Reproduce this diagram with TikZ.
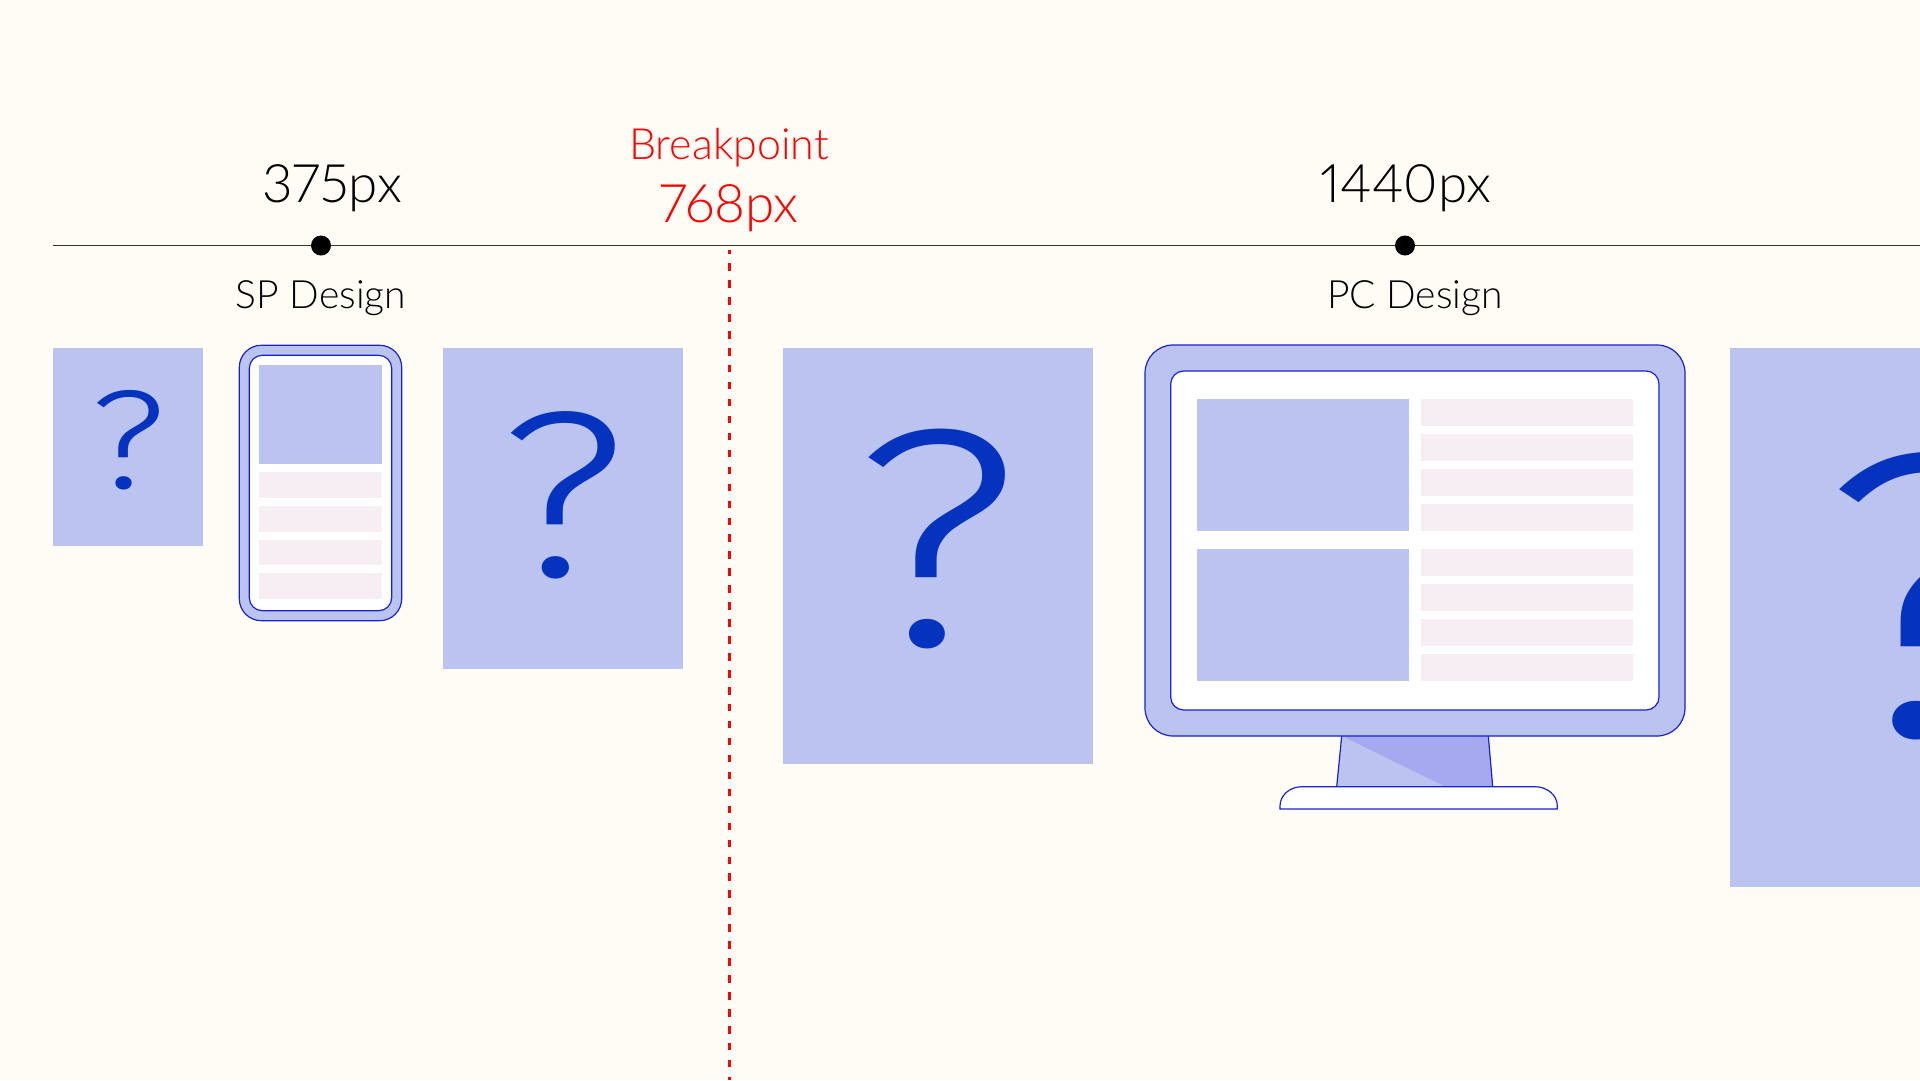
\documentclass[tikz,border=0pt]{standalone}
\usepackage{fontspec}
\setmainfont{Lato Light}[Numbers=Proportional]
\newfontfamily\markfont{Fira Sans Light}
\usetikzlibrary{positioning}
\definecolor{paper}{HTML}{FFFDF6}
\definecolor{panel}{HTML}{BBC3F1}
\definecolor{mark}{HTML}{0533BE}
\definecolor{rowpink}{HTML}{F6EEF2}
\definecolor{edge}{HTML}{1A22CC}
\definecolor{standdark}{HTML}{A5A9F0}
\newcommand{\fsize}[1]{\fontsize{#1}{#1}\selectfont}

\begin{document}
\begin{tikzpicture}[x=1pt,y=-1pt,
    size/.style={inner sep=0pt,font=\fsize{53}},
    sublabel/.style={inner sep=0pt,font=\fsize{39}},
    dot/.style={circle,fill=black,inner sep=0pt,minimum size=20pt},
    block/.style={fill=panel},
    rowbar/.style={fill=rowpink},
    frame/.style={draw=edge,line width=1.2pt,fill=panel},
    screen/.style={draw=edge,line width=1.2pt,fill=white},
    qmark/.style={inner sep=0pt,text=mark}]
  \useasboundingbox (0,0) rectangle (1920,1080);
  \clip (0,0) rectangle (1920,1080);
  \fill[paper] (0,0) rectangle (1920,1080);

  % timeline
  \coordinate (lineL) at (52.5,245.5);
  \coordinate (lineR) at (1920,245.5);
  \draw[black!80,line width=1.1pt] (lineL) -- (lineR);
  \node[dot] (spdot) at (321,245.5) {};
  \node[dot] (pcdot) at (1405,245.5) {};
  \node[size,anchor=base] (spsize) at (332,202) {375px};
  \node[size,anchor=base] (pcsize) at (1406,202) {1440px};
  \node[sublabel,anchor=base] (splabel) at (321,308) {SP Design};
  \node[sublabel,anchor=base] (pclabel) at (1415,308) {PC Design};
  \node[sublabel,anchor=base,text=red,font=\fsize{43}] (bplabel) at (729,159) {Breakpoint};
  \node[size,anchor=base,text=red] (bpsize) at (729,222) {768px};

  % breakpoint
  \coordinate (bpT) at (729.5,250);
  \coordinate (bpB) at (729.5,1080);
  \draw[red,line width=3pt,dash pattern=on 7.5pt off 9.45pt,dash phase=3.7pt] (bpT) -- (bpB);

  % unknown widths
  \foreach [count=\i] \xa/\ya/\xb/\yb/\fs/\qx/\qy in {
      52.5/347.5/202.5/546/141/128/488,
      443/348/682.7/668.6/237/562.7/576,
      782.5/348/1092.7/764/311/937/645.3,
      1730/348/1920/886.5/407/1929/735}
    {
      \fill[block] (\xa,\ya) rectangle (\xb,\yb);
      \node[qmark,anchor=base,font={\markfont\fsize{\fs}}] (q\i) at (\qx,\qy) {\scalebox{1.2}[1]{?}};
    }

  % phone
  \draw[frame,rounded corners=22pt] (239.3,345.3) rectangle (401.7,620.7);
  \draw[screen,rounded corners=13pt] (249.3,355.3) rectangle (391.7,610.7);
  \fill[block] (259,365) rectangle (382,464);
  \foreach \ya/\yb in {472/498,506/531.7,539.7/565.3,573.3/599}
    \fill[rowbar] (259,\ya) rectangle (382,\yb);

  % monitor
  \fill[block] (1341.7,736) -- (1445,786.7) -- (1336.7,786.7) -- cycle;
  \fill[standdark] (1341.7,736) -- (1488.3,736) -- (1492.7,786.7) -- (1445,786.7) -- cycle;
  \draw[edge,line width=1.2pt] (1336.7,786.7) -- (1341.7,736) (1488.3,736) -- (1492.7,786.7);
  \draw[screen] (1280,809) -- (1280,806) .. controls (1280,795) and (1290,786.7) .. (1302,786.7)
     -- (1535,786.7) .. controls (1547,786.7) and (1557.3,795) .. (1557.3,806) -- (1557.3,809) -- cycle;
  \draw[frame,rounded corners=28pt] (1145,345) rectangle (1685,736);
  \draw[screen,rounded corners=13pt] (1170.7,371) rectangle (1659,710);
  \foreach \ya in {399,549}
    \fill[block] (1197,\ya) rectangle (1409.3,\ya+132);
  \foreach \ya in {399,434,469,504,549,584,619,654}
    \fill[rowbar] (1421,\ya) rectangle (1633,\ya+27);
\end{tikzpicture}
\end{document}
